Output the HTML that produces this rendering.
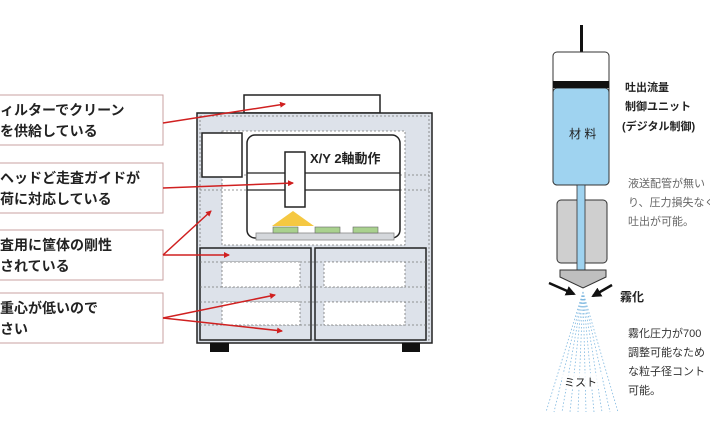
<!DOCTYPE html>
<html><head><meta charset="utf-8"><style>
html,body{margin:0;padding:0;background:#fff;}
svg{display:block;}
text{font-family:"Liberation Sans","Noto Sans CJK JP",sans-serif;}
</style></head><body>
<svg width="710" height="434" viewBox="0 0 710 434" xmlns="http://www.w3.org/2000/svg">
<defs>
<marker id="ra" markerWidth="6" markerHeight="6" refX="5" refY="3" orient="auto" markerUnits="userSpaceOnUse"><path d="M0,0 L6,3 L0,6 z" fill="#d02020"/></marker>
<marker id="ba" markerWidth="10" markerHeight="10" refX="8" refY="5" orient="auto" markerUnits="userSpaceOnUse"><path d="M0,0 L10,5 L0,10 z" fill="#111"/></marker>
</defs>
<!-- Left label boxes -->
<g fill="#fff" stroke="#c9a0a0" stroke-width="1">
<rect x="-2" y="95" width="165" height="50"/>
<rect x="-2" y="163" width="165" height="50"/>
<rect x="-2" y="230" width="165" height="50"/>
<rect x="-2" y="293" width="165" height="50"/>
</g>
<g font-size="14" font-weight="bold" fill="#222">
<text x="0" y="115">ィルターでクリーン</text>
<text x="0" y="136">を供給している</text>
<text x="0" y="183">ヘッドど走査ガイドが</text>
<text x="0" y="204">荷に対応している</text>
<text x="0" y="250">査用に筐体の剛性</text>
<text x="0" y="271">されている</text>
<text x="0" y="313">重心が低いので</text>
<text x="0" y="334">さい</text>
</g>
<!-- Machine -->
<rect x="244" y="95" width="136" height="18" fill="#fff" stroke="#222" stroke-width="1.5"/>
<rect x="197" y="113" width="235" height="230" fill="#dde2ea" stroke="#222" stroke-width="1.5"/>
<rect x="200" y="116" width="229" height="224" fill="none" stroke="#777" stroke-dasharray="2,2" stroke-width="0.8"/>
<rect x="222" y="131" width="183" height="114" fill="#fff" stroke="#777" stroke-dasharray="2,2" stroke-width="0.8"/>
<line x1="200" y1="175" x2="429" y2="175" stroke="#777" stroke-dasharray="2,2" stroke-width="0.8"/>
<line x1="200" y1="190" x2="429" y2="190" stroke="#777" stroke-dasharray="2,2" stroke-width="0.8"/>
<rect x="202" y="133" width="40" height="44" fill="#fff" stroke="#222" stroke-width="1.5"/>
<rect x="247" y="135" width="153" height="103" rx="8" fill="#fff" stroke="#222" stroke-width="1.5"/>
<line x1="247" y1="173" x2="400" y2="173" stroke="#222" stroke-width="1.2"/>
<line x1="247" y1="190" x2="400" y2="190" stroke="#222" stroke-width="1.2"/>
<rect x="256" y="233" width="138" height="7" fill="#d5d8dc" stroke="#888" stroke-width="0.8"/>
<g fill="#a9d18e" stroke="#666" stroke-width="0.6">
<rect x="273" y="227" width="25" height="6"/><rect x="315" y="227" width="25" height="6"/><rect x="353" y="227" width="25" height="6"/>
</g>
<polygon points="293,211 272,226 314,226" fill="#f5c842"/>
<rect x="285" y="152" width="20" height="55" fill="#fff" stroke="#222" stroke-width="1.5"/>
<text x="310" y="163" font-size="13" font-weight="bold" fill="#222">X/Y 2軸動作</text>
<rect x="200" y="248" width="111" height="92" fill="#dde2ea" stroke="#222" stroke-width="1.5"/>
<rect x="315" y="248" width="111" height="92" fill="#dde2ea" stroke="#222" stroke-width="1.5"/>
<g stroke="#777" stroke-dasharray="2,2" stroke-width="0.8">
<line x1="200" y1="262" x2="426" y2="262"/><line x1="200" y1="287" x2="426" y2="287"/>
<line x1="200" y1="302" x2="426" y2="302"/><line x1="200" y1="325" x2="426" y2="325"/>
<rect x="222" y="262" width="78" height="25" fill="#fff"/><rect x="222" y="302" width="78" height="23" fill="#fff"/>
<rect x="324" y="262" width="81" height="25" fill="#fff"/><rect x="324" y="302" width="81" height="23" fill="#fff"/>
</g>
<rect x="210" y="343" width="19" height="9" fill="#111"/>
<rect x="402" y="343" width="18" height="9" fill="#111"/>
<!-- red arrows -->
<g stroke="#d02020" stroke-width="1.5" fill="none" marker-end="url(#ra)">
<line x1="163" y1="123" x2="285" y2="104"/>
<line x1="163" y1="188" x2="293" y2="183"/>
<line x1="163" y1="255" x2="211" y2="211"/>
<line x1="163" y1="255" x2="229" y2="255"/>
<line x1="163" y1="318" x2="275" y2="295"/>
<line x1="163" y1="318" x2="282" y2="331"/>
</g>
<!-- Right syringe -->
<rect x="580" y="25" width="3" height="58" fill="#111"/>
<rect x="553" y="52" width="56" height="133" rx="4" fill="#fff" stroke="#333" stroke-width="1"/>
<rect x="553" y="88" width="56" height="97" rx="4" fill="#9fd3f0" stroke="#333" stroke-width="1"/>
<rect x="553" y="81" width="56" height="7" fill="#111"/>
<text x="569" y="138" font-size="12" fill="#222">材 料</text>
<rect x="557" y="200" width="50" height="63" rx="4" fill="#cfcfcf" stroke="#333" stroke-width="1"/>
<rect x="577" y="185" width="8" height="86" fill="#9fd3f0" stroke="#333" stroke-width="0.8"/>
<polygon points="560,270 606,270 606,277 583,288 560,277" fill="#bfbfbf" stroke="#333" stroke-width="1"/>
<line x1="549" y1="283" x2="574" y2="294" stroke="#111" stroke-width="2.5" marker-end="url(#ba)"/>
<line x1="612" y1="285" x2="593" y2="296" stroke="#111" stroke-width="2.5" marker-end="url(#ba)"/>
<g stroke="#7fb8e0" stroke-width="0.8" stroke-dasharray="1.5,2" fill="none">
<line x1="583" y1="292" x2="546" y2="412"/><line x1="583" y1="292" x2="554" y2="412"/>
<line x1="583" y1="292" x2="562" y2="412"/><line x1="583" y1="292" x2="570" y2="412"/>
<line x1="583" y1="292" x2="578" y2="412"/><line x1="583" y1="292" x2="586" y2="412"/>
<line x1="583" y1="292" x2="594" y2="412"/><line x1="583" y1="292" x2="602" y2="412"/>
<line x1="583" y1="292" x2="610" y2="412"/><line x1="583" y1="292" x2="618" y2="412"/>
</g>
<rect x="562" y="373" width="40" height="16" fill="#fff" opacity="0.8"/>
<text x="564" y="386" font-size="11" fill="#222">ミスト</text>
<text x="620" y="301" font-size="12" font-weight="bold" fill="#222">霧化</text>
<g font-size="11" fill="#222" font-weight="bold">
<text x="625" y="91">吐出流量</text>
<text x="625" y="110">制御ユニット</text>
<text x="622" y="130">(デジタル制御)</text>
</g>
<g font-size="11" fill="#666">
<text x="628" y="187">液送配管が無い</text>
<text x="628" y="206">り、圧力損失なく</text>
<text x="628" y="225">吐出が可能。</text>
</g>
<g font-size="11" fill="#333">
<text x="628" y="337">霧化圧力が700</text>
<text x="628" y="356">調整可能なため</text>
<text x="628" y="375">な粒子径コント</text>
<text x="628" y="394">可能。</text>
</g>
</svg>
</body></html>
